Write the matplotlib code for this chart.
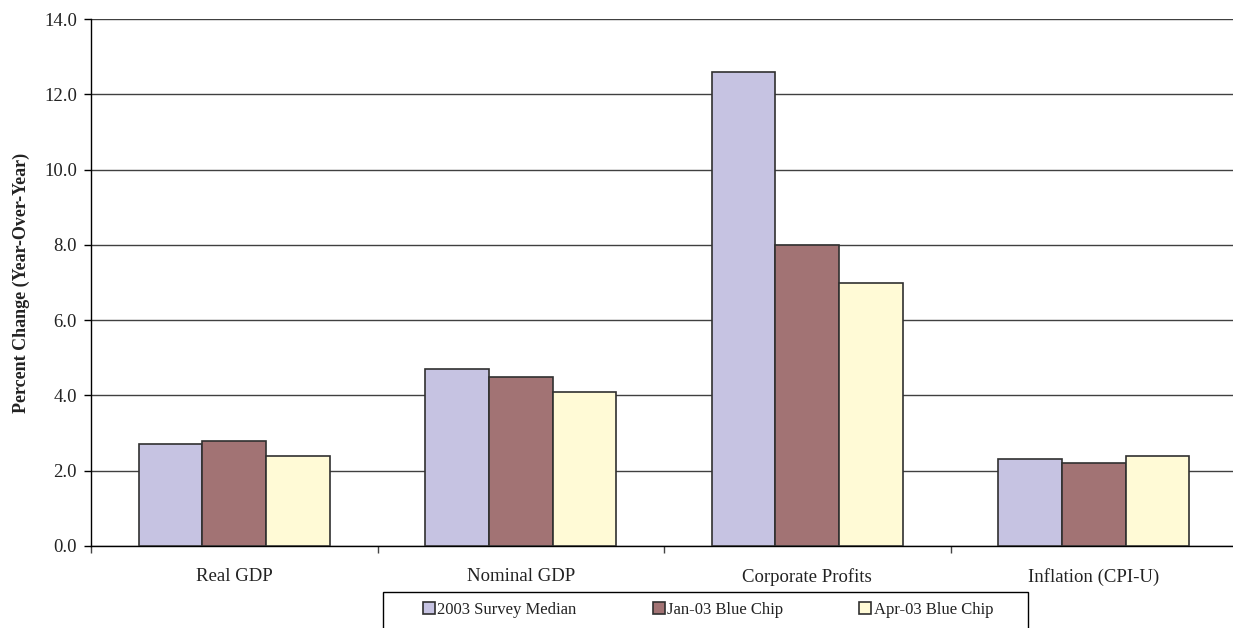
import matplotlib
matplotlib.use("Agg")
import matplotlib.pyplot as plt
import numpy as np
from matplotlib.patches import Rectangle

plt.rcParams['font.family'] = ['Liberation Serif', 'DejaVu Serif']

categories = ["Real GDP", "Nominal GDP", "Corporate Profits", "Inflation (CPI-U)"]
series_names = ["2003 Survey Median", "Jan-03 Blue Chip", "Apr-03 Blue Chip"]
survey_median = [2.7, 4.7, 12.6, 2.3]
jan03_blue_chip = [2.8, 4.5, 8.0, 2.2]
apr03_blue_chip = [2.4, 4.1, 7.0, 2.4]
y_ticks = [0.0, 2.0, 4.0, 6.0, 8.0, 10.0, 12.0, 14.0]

colors = ["#C6C3E2", "#A27374", "#FFFAD6"]

W, H = 1233, 628
fig = plt.figure(figsize=(W / 100, H / 100), dpi=100)
# plot area runs slightly past the right edge of the figure
ax = fig.add_axes([91 / W, 1 - 546 / H, 1146 / W, 527 / H])

x = np.arange(len(categories))
width = 0.222
series = [survey_median, jan03_blue_chip, apr03_blue_chip]
for i, (vals, name, col) in enumerate(zip(series, series_names, colors)):
    ax.bar(x + (i - 1) * width, vals, width, color=col, edgecolor="#303030",
           linewidth=1.2, label=name, zorder=3)

ax.set_xlim(-0.5, len(categories) - 0.5)
ax.set_ylim(0, 14)
ax.set_yticks(y_ticks)
ax.set_yticklabels([f"{t:.1f}" for t in y_ticks], fontsize=13.5, color="#222222")
ax.yaxis.grid(True, color="#404040", linewidth=1.0, zorder=0)
ax.set_axisbelow(True)

ax.set_xticks(x)
ax.set_xticklabels(categories, fontsize=13.5, color="#222222")
ax.tick_params(axis="x", length=0, pad=16)
ax.set_xticks(np.arange(len(categories) + 1) - 0.5, minor=True)
ax.tick_params(axis="x", which="minor", length=5, width=1, direction="out", color="#444444")
ax.tick_params(axis="y", length=5, width=1, direction="out", pad=5)

for s in ["top", "right"]:
    ax.spines[s].set_visible(False)
for s in ["left", "bottom"]:
    ax.spines[s].set_color("black")
    ax.spines[s].set_linewidth(1.0)

ax.set_ylabel("Percent Change (Year-Over-Year)", fontsize=13, fontweight="bold",
              labelpad=10, color="#222222")

# Legend sits in a box that runs past the bottom edge of the figure
frame = Rectangle((383 / W, -0.05), (1028 - 383) / W, 0.05 + (H - 592) / H,
                  transform=fig.transFigure, facecolor="white", edgecolor="black",
                  linewidth=1.0, clip_on=False, zorder=0)
fig.patches.append(frame)
handles, labels = ax.get_legend_handles_labels()
leg = fig.legend(handles, labels, loc="center", bbox_to_anchor=(708 / W, 1 - 610 / H),
                 ncol=3, frameon=False, fontsize=12, handlelength=0.72, handleheight=0.72,
                 handletextpad=0.15, columnspacing=4.55, borderpad=0, borderaxespad=0)
for t in leg.get_texts():
    t.set_color("#222222")

fig.savefig("out.png", dpi=100)
